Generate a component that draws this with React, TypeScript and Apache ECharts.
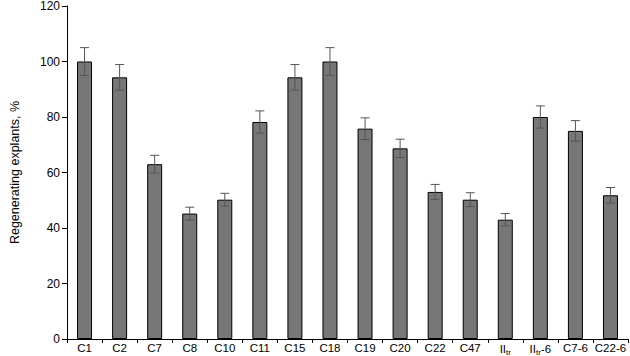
import React, { useEffect, useRef } from "react";
import * as echarts from "echarts";

const categories = ["C1", "C2", "C7", "C8", "C10", "C11", "C15", "C18", "C19", "C20", "C22", "C47", "II{sub|tr}", "II{sub|tr}-6", "C7-6", "C22-6"];
const values = [100, 94.3, 63, 45.2, 50.2, 78.2, 94.3, 100, 75.8, 68.7, 53, 50.2, 43, 80, 75, 51.8];
const errors = [5, 4.6, 3.2, 2.3, 2.3, 4, 4.6, 5, 3.9, 3.3, 2.7, 2.5, 2.2, 4, 3.7, 2.8];
const yTicks = { min: 0, max: 120, interval: 20 };
const yTitle = "Regenerating explants, %";

export default function App() {
  const ref = useRef<HTMLDivElement>(null);
  useEffect(() => {
    if (!ref.current) return;
    const chart = echarts.init(ref.current, undefined, { renderer: "svg" });
    const font = "'Liberation Sans', Arial, sans-serif";
    chart.setOption({
      animation: false,
      grid: { left: 56, right: 2, top: 5, bottom: 17 },
      xAxis: {
        type: "category",
        data: categories,
        axisLine: { lineStyle: { color: "#000", width: 1 } },
        axisTick: { show: true, alignWithLabel: false, length: 4, lineStyle: { color: "#000" } },
        axisLabel: {
          color: "#000",
          fontFamily: font,
          fontSize: 11.5,
          margin: 3,
          interval: 0,
          rich: {
            sub: { fontSize: 8, verticalAlign: "bottom", padding: [6, 0, 0, 0], fontFamily: font, color: "#000" },
          },
        },
      },
      yAxis: {
        type: "value",
        min: yTicks.min,
        max: yTicks.max,
        interval: yTicks.interval,
        name: yTitle,
        nameLocation: "middle",
        nameGap: 46,
        nameTextStyle: { color: "#000", fontFamily: font, fontSize: 12.5 },
        splitLine: { show: false },
        axisLine: { show: true, lineStyle: { color: "#000", width: 1 } },
        axisTick: { show: true, length: 5, lineStyle: { color: "#000" } },
        axisLabel: { color: "#000", fontFamily: font, fontSize: 12, margin: 7 },
      },
      series: [
        {
          type: "bar",
          data: values,
          barWidth: 15,
          itemStyle: { color: "#777777", borderColor: "#000", borderWidth: 1 },
        },
        {
          type: "custom",
          data: values.map((v, i) => [i, v - errors[i], v + errors[i]]),
          z: 10,
          renderItem: (params: any, api: any) => {
            const x = api.value(0);
            const lo = api.coord([x, api.value(1)]);
            const hi = api.coord([x, api.value(2)]);
            const hw = 4.5;
            const style = { stroke: "#555", lineWidth: 1 };
            return {
              type: "group",
              children: [
                { type: "line", shape: { x1: lo[0], y1: lo[1], x2: hi[0], y2: hi[1] }, style },
                { type: "line", shape: { x1: hi[0] - hw, y1: hi[1], x2: hi[0] + hw, y2: hi[1] }, style },
                { type: "line", shape: { x1: lo[0] - hw, y1: lo[1], x2: lo[0] + hw, y2: lo[1] }, style },
              ],
            };
          },
        },
      ],
    });
    return () => chart.dispose();
  }, []);
  return <div ref={ref} style={{ width: 630, height: 356, position: "absolute", left: 0, top: 0 }} />;
}
